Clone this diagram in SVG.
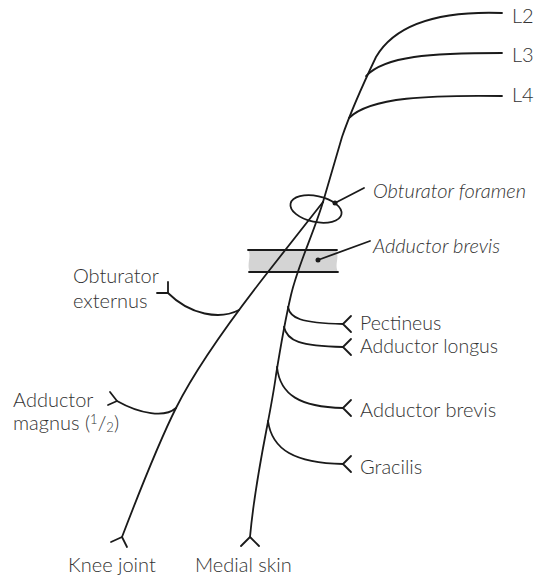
<svg xmlns="http://www.w3.org/2000/svg" width="535" height="580" viewBox="0 0 535 580">
<style>
.n{fill:none;stroke:#1a1a1a;stroke-width:1.8;stroke-linecap:round;stroke-linejoin:round}
.t{font-family:Lato,"Liberation Sans",sans-serif;font-weight:300;font-size:20px;fill:#333}
.s{font-size:19.5px}
.i{font-style:italic}
.band{fill:#d4d4d4;stroke:none}
</style>
<rect width="535" height="580" fill="#fff"/>
<g id="band">
<path class="band" d="M248,250 L336,250 C340,258 334,264 338,272 L250,272 C246,264 252,256 248,250 Z"/>
<line class="n" x1="248" y1="250" x2="337" y2="250"/>
<line class="n" x1="249" y1="272" x2="338" y2="272"/>
</g>
<g id="foramen">
<ellipse class="n" cx="316" cy="209" rx="26" ry="13" transform="rotate(12 316 209)"/>
</g>
<g id="connectors">
<path class="n" d="M502,13 C445,11 397,21 376,57 C366,78 352,108 342,137 L323,202"/>
<path class="n" d="M502,53 C430,53 385,56 366,76"/>
<path class="n" d="M502,96 C430,95 370,97 349,118"/>
<path class="n" d="M323,202 L268,272 C250,295 200,360 176,408 C160,440 140,490 122,537"/>
<path class="n" d="M323,202 C313,235 298,265 291,295 C284,325 280,350 276,375 C270,420 256,470 250,537"/>
<path class="n" d="M239,310 C220,320 190,315 168,293"/>
<path class="n" d="M176,408 C165,418 140,414 117,401"/>
<path class="n" d="M288,307 C290,318 300,323 343,324"/>
<path class="n" d="M284,327 C287,341 300,346 343,347"/>
<path class="n" d="M277,367 C280,395 300,407 343,408"/>
<path class="n" d="M268,421 C272,450 295,463 343,464"/>
<path class="n" d="M335,203 L364,188"/>
<circle cx="335" cy="203" r="2.5" fill="#1a1a1a"/>
<path class="n" d="M318,260 L370,241"/>
<circle cx="318" cy="260" r="2.5" fill="#1a1a1a"/>
</g>
<g id="endings">
<path class="n" d="M168,282 L168,293 L157,293"/>
<path class="n" d="M110,392 L117,401 L108,405"/>
<path class="n" d="M111,542 L122,537 L127,547"/>
<path class="n" d="M241,546 L250,537 L259,546"/>
<path class="n" d="M351,316 L343,324 L351,332"/>
<path class="n" d="M351,339 L343,347 L351,355"/>
<path class="n" d="M351,400 L343,408 L351,416"/>
<path class="n" d="M351,456 L343,464 L351,472"/>
</g>
<g id="label-L2"><text class="t" x="512" y="23">L2</text></g>
<g id="label-L3"><text class="t" x="512" y="62">L3</text></g>
<g id="label-L4"><text class="t" x="512" y="102">L4</text></g>
<g id="label-obturator-foramen"><text class="t i" x="373" y="198">Obturator foramen</text></g>
<g id="label-adductor-brevis-muscle"><text class="t i" x="373" y="253">Adductor brevis</text></g>
<g id="label-obturator-externus"><text class="t" x="73" y="283">Obturator</text><text class="t" x="73" y="308">externus</text></g>
<g id="label-adductor-magnus"><text class="t" x="13" y="407">Adductor</text><text class="t" x="13" y="430">magnus (<tspan font-size="13" dy="-6">1</tspan><tspan dy="6">/</tspan><tspan font-size="13" dy="2">2</tspan><tspan dy="-2">)</tspan></text></g>
<g id="label-pectineus"><text class="t s" x="360" y="330">Pectineus</text></g>
<g id="label-adductor-longus"><text class="t s" x="360" y="353">Adductor longus</text></g>
<g id="label-adductor-brevis"><text class="t" x="360" y="417">Adductor brevis</text></g>
<g id="label-gracilis"><text class="t" x="360" y="474">Gracilis</text></g>
<g id="label-knee-joint"><text class="t" x="68" y="572">Knee joint</text></g>
<g id="label-medial-skin"><text class="t" x="195" y="572">Medial skin</text></g>
</svg>
